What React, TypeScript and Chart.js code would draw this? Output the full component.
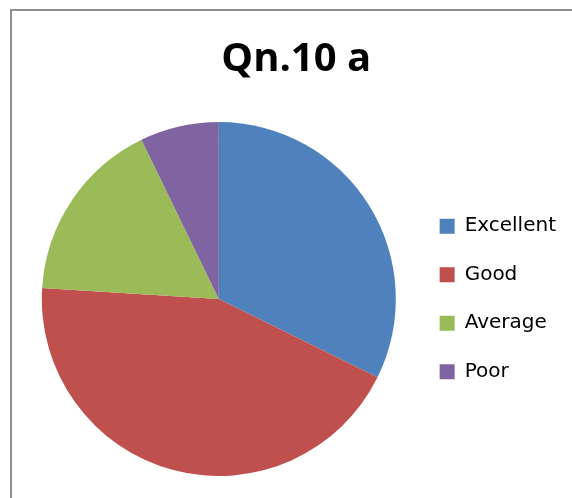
import React, { useEffect, useRef } from 'react';
import { Chart, registerables } from 'chart.js';

Chart.register(...registerables);

const categories = ['Excellent', 'Good', 'Average', 'Poor'];
const values = [32.3, 43.7, 16.8, 7.2];
const colors = ['#4F81BD', '#C0504D', '#9BBB59', '#8064A2'];
const titleText = 'Qn.10 a';

export default function App() {
  const ref = useRef<HTMLCanvasElement>(null);
  useEffect(() => {
    const chart = new Chart(ref.current!, {
      type: 'pie',
      data: {
        labels: categories,
        datasets: [{ data: values, backgroundColor: colors, borderWidth: 0 }],
      },
      options: {
        responsive: false,
        animation: false,
        layout: { padding: { left: 26.5, right: 6, top: 0, bottom: 22 } },
        plugins: {
          title: {
            display: true,
            text: titleText,
            color: '#000',
            font: { family: 'Open Sans', size: 40, weight: 'bold', lineHeight: 1.2 },
            padding: { top: 36, bottom: 38 },
          },
          legend: {
            position: 'right',
            fullSize: false,
            labels: {
              boxWidth: 15,
              boxHeight: 15,
              padding: 28.5,
              color: '#000',
              font: { family: 'DejaVu Sans', size: 20 },
            },
          },
          tooltip: { enabled: false },
        },
      },
    });
    return () => chart.destroy();
  }, []);
  return (
    <div style={{ position: 'absolute', left: 0, top: 0, width: 572, height: 498, overflow: 'hidden', background: '#fff' }}>
      <div style={{ position: 'absolute', left: 10, top: 9, width: 620, height: 620, border: '2px solid #8f8f8f' }} />
      <canvas ref={ref} width={572} height={498} style={{ position: 'absolute', left: 0, top: 0 }} />
    </div>
  );
}
